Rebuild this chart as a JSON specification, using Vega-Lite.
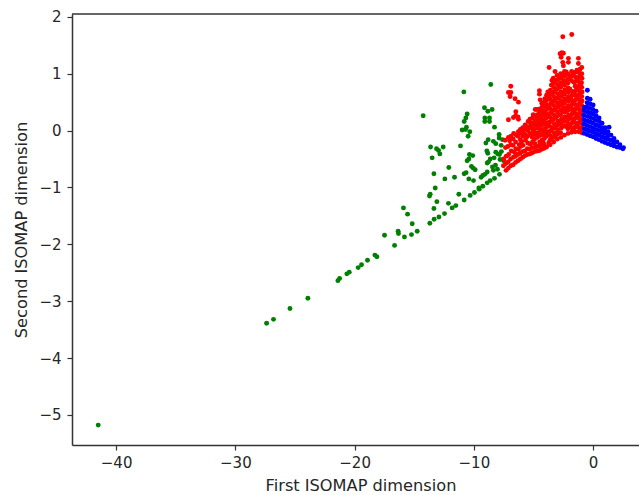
{"$schema":"https://vega.github.io/schema/vega-lite/v6.json","width":567,"height":431,"autosize":{"type":"none"},"padding":{"left":72,"top":14,"right":0,"bottom":50},"background":"white","view":{"stroke":null},
"datasets":{"pts":[
{"x":-8.58,"y":0.81,"g":"g"},{"x":-10.84,"y":0.68,"g":"g"},{"x":-14.25,"y":0.26,"g":"g"},{"x":-9.11,"y":0.4,"g":"g"},{"x":-8.83,"y":0.34,"g":"g"},{"x":-8.47,"y":0.37,"g":"g"},{"x":-10.56,"y":0.29,"g":"g"},{"x":-10.67,"y":0.22,"g":"g"},{"x":-10.81,"y":0.16,"g":"g"},{"x":-9.08,"y":0.22,"g":"g"},{"x":-9.08,"y":0.16,"g":"g"},{"x":-8.69,"y":0.22,"g":"g"},{"x":-8.69,"y":0.16,"g":"g"},{"x":-8.27,"y":0.06,"g":"g"},{"x":-10.62,"y":0.06,"g":"g"},{"x":-10.98,"y":0.01,"g":"g"},{"x":-10.7,"y":0.02,"g":"g"},{"x":-10.34,"y":-0.02,"g":"g"},{"x":-10.48,"y":-0.1,"g":"g"},{"x":-7.88,"y":-0.07,"g":"g"},{"x":-7.88,"y":-0.13,"g":"g"},{"x":-8.8,"y":-0.16,"g":"g"},{"x":-8.99,"y":-0.22,"g":"g"},{"x":-8.36,"y":-0.19,"g":"g"},{"x":-8.16,"y":-0.23,"g":"g"},{"x":-7.71,"y":-0.26,"g":"g"},{"x":-7.6,"y":-0.16,"g":"g"},{"x":-11.12,"y":-0.27,"g":"g"},{"x":-13.63,"y":-0.29,"g":"g"},{"x":-12.57,"y":-0.29,"g":"g"},{"x":-13.13,"y":-0.32,"g":"g"},{"x":-12.96,"y":-0.35,"g":"g"},{"x":-12.85,"y":-0.41,"g":"g"},{"x":-13.5,"y":-0.48,"g":"g"},{"x":-8.91,"y":-0.36,"g":"g"},{"x":-8.83,"y":-0.4,"g":"g"},{"x":-8.16,"y":-0.38,"g":"g"},{"x":-7.99,"y":-0.41,"g":"g"},{"x":-7.69,"y":-0.37,"g":"g"},{"x":-7.85,"y":-0.42,"g":"g"},{"x":-10.37,"y":-0.42,"g":"g"},{"x":-10.09,"y":-0.44,"g":"g"},{"x":-10.42,"y":-0.5,"g":"g"},{"x":-10.56,"y":-0.53,"g":"g"},{"x":-8.3,"y":-0.48,"g":"g"},{"x":-8.63,"y":-0.5,"g":"g"},{"x":-8.77,"y":-0.55,"g":"g"},{"x":-8.88,"y":-0.57,"g":"g"},{"x":-7.8,"y":-0.51,"g":"g"},{"x":-7.5,"y":-0.53,"g":"g"},{"x":-8.19,"y":-0.61,"g":"g"},{"x":-8.44,"y":-0.64,"g":"g"},{"x":-8.02,"y":-0.68,"g":"g"},{"x":-8.36,"y":-0.7,"g":"g"},{"x":-10.2,"y":-0.63,"g":"g"},{"x":-10.06,"y":-0.66,"g":"g"},{"x":-9.89,"y":-0.69,"g":"g"},{"x":-12.1,"y":-0.65,"g":"g"},{"x":-10.65,"y":-0.74,"g":"g"},{"x":-10.81,"y":-0.76,"g":"g"},{"x":-13.35,"y":-0.76,"g":"g"},{"x":-8.88,"y":-0.73,"g":"g"},{"x":-9.08,"y":-0.77,"g":"g"},{"x":-9.25,"y":-0.79,"g":"g"},{"x":-9.39,"y":-0.82,"g":"g"},{"x":-7.85,"y":-0.77,"g":"g"},{"x":-8.27,"y":-0.84,"g":"g"},{"x":-8.63,"y":-0.88,"g":"g"},{"x":-8.88,"y":-0.92,"g":"g"},{"x":-11.62,"y":-0.82,"g":"g"},{"x":-12.43,"y":-0.85,"g":"g"},{"x":-10.42,"y":-0.85,"g":"g"},{"x":-10.03,"y":-0.88,"g":"g"},{"x":-9.25,"y":-0.98,"g":"g"},{"x":-9.58,"y":-1.01,"g":"g"},{"x":-9.55,"y":-1.03,"g":"g"},{"x":-9.95,"y":-1.09,"g":"g"},{"x":-10.31,"y":-1.14,"g":"g"},{"x":-13.24,"y":-1.01,"g":"g"},{"x":-13.66,"y":-1.12,"g":"g"},{"x":-13.72,"y":-1.15,"g":"g"},{"x":-11.26,"y":-1.12,"g":"g"},{"x":-10.81,"y":-1.22,"g":"g"},{"x":-13.1,"y":-1.25,"g":"g"},{"x":-12.13,"y":-1.28,"g":"g"},{"x":-11.51,"y":-1.32,"g":"g"},{"x":-11.82,"y":-1.36,"g":"g"},{"x":-13.35,"y":-1.37,"g":"g"},{"x":-15.9,"y":-1.36,"g":"g"},{"x":-15.56,"y":-1.47,"g":"g"},{"x":-12.46,"y":-1.46,"g":"g"},{"x":-12.93,"y":-1.52,"g":"g"},{"x":-13.33,"y":-1.56,"g":"g"},{"x":-13.69,"y":-1.63,"g":"g"},{"x":-15.17,"y":-1.64,"g":"g"},{"x":-14.75,"y":-1.77,"g":"g"},{"x":-15.23,"y":-1.83,"g":"g"},{"x":-15.82,"y":-1.87,"g":"g"},{"x":-16.35,"y":-1.77,"g":"g"},{"x":-16.32,"y":-1.81,"g":"g"},{"x":-17.49,"y":-1.84,"g":"g"},{"x":-16.65,"y":-2.02,"g":"g"},{"x":-18.13,"y":-2.22,"g":"g"},{"x":-18.3,"y":-2.19,"g":"g"},{"x":-18.92,"y":-2.28,"g":"g"},{"x":-19.42,"y":-2.36,"g":"g"},{"x":-19.7,"y":-2.41,"g":"g"},{"x":-20.45,"y":-2.49,"g":"g"},{"x":-20.65,"y":-2.52,"g":"g"},{"x":-21.26,"y":-2.6,"g":"g"},{"x":-21.4,"y":-2.64,"g":"g"},{"x":-23.92,"y":-2.95,"g":"g"},{"x":-25.42,"y":-3.13,"g":"g"},{"x":-26.8,"y":-3.32,"g":"g"},{"x":-27.38,"y":-3.39,"g":"g"},{"x":-41.5,"y":-5.18,"g":"g"},
{"x":-1.79,"y":1.69,"g":"r"},{"x":-2.54,"y":1.65,"g":"r"},{"x":-2.62,"y":1.37,"g":"r"},{"x":-2.77,"y":1.35,"g":"r"},{"x":-2.49,"y":1.36,"g":"r"},{"x":-2.68,"y":1.29,"g":"r"},{"x":-1.23,"y":1.27,"g":"r"},{"x":-2.07,"y":1.27,"g":"r"},{"x":-2.07,"y":1.2,"g":"r"},{"x":-2.54,"y":1.2,"g":"r"},{"x":-2.49,"y":1.14,"g":"r"},{"x":-1.23,"y":1.18,"g":"r"},{"x":-0.95,"y":1.11,"g":"r"},{"x":-3.69,"y":1.11,"g":"r"},{"x":-3.19,"y":1.04,"g":"r"},{"x":-1.1,"y":1.08,"g":"r"},{"x":-6.9,"y":0.78,"g":"r"},{"x":-7.1,"y":0.67,"g":"r"},{"x":-6.9,"y":0.67,"g":"r"},{"x":-6.96,"y":0.6,"g":"r"},{"x":-6.54,"y":0.56,"g":"r"},{"x":-6.26,"y":0.5,"g":"r"},{"x":-4.5,"y":0.7,"g":"r"},{"x":-4.5,"y":0.64,"g":"r"},{"x":-4.44,"y":0.54,"g":"r"},{"x":-3.8,"y":0.68,"g":"r"},{"x":-6.48,"y":0.33,"g":"r"},{"x":-6.5,"y":0.26,"g":"r"},{"x":-6.3,"y":0.24,"g":"r"},{"x":-6.68,"y":0.23,"g":"r"},{"x":-7.1,"y":0.19,"g":"r"},{"x":-6.26,"y":0.2,"g":"r"},
{"x":-7.52,"y":-0.62,"g":"r"},{"x":-7.5,"y":-0.5,"g":"r"},
{"x":-7.3,"y":-0.7,"g":"r"},{"x":-7.32,"y":-0.58,"g":"r"},{"x":-7.28,"y":-0.45,"g":"r"},{"x":-7.35,"y":-0.3,"g":"r"},{"x":-7.38,"y":-0.17,"g":"r"},
{"x":-7.1,"y":-0.66,"g":"r"},{"x":-7.12,"y":-0.55,"g":"r"},{"x":-7.08,"y":-0.42,"g":"r"},{"x":-7.15,"y":-0.28,"g":"r"},{"x":-7.1,"y":-0.12,"g":"r"},
{"x":-6.9,"y":-0.62,"g":"r"},{"x":-6.92,"y":-0.5,"g":"r"},{"x":-6.86,"y":-0.36,"g":"r"},{"x":-6.9,"y":-0.25,"g":"r"},{"x":-6.88,"y":-0.1,"g":"r"},
{"x":-6.7,"y":-0.6,"g":"r"},{"x":-6.68,"y":-0.47,"g":"r"},{"x":-6.72,"y":-0.26,"g":"r"},{"x":-6.7,"y":-0.15,"g":"r"},{"x":-6.66,"y":-0.05,"g":"r"},
{"x":-6.5,"y":-0.56,"g":"r"},{"x":-6.52,"y":-0.45,"g":"r"},{"x":-6.48,"y":-0.32,"g":"r"},{"x":-6.5,"y":-0.2,"g":"r"},{"x":-6.45,"y":-0.08,"g":"r"},
{"x":-6.3,"y":-0.53,"g":"r"},{"x":-6.32,"y":-0.42,"g":"r"},{"x":-6.28,"y":-0.33,"g":"r"},{"x":-6.3,"y":-0.1,"g":"r"},{"x":-6.27,"y":-0.02,"g":"r"},
{"x":-6.1,"y":-0.5,"g":"r"},{"x":-6.12,"y":-0.4,"g":"r"},{"x":-6.08,"y":-0.28,"g":"r"},{"x":-6.1,"y":-0.16,"g":"r"},{"x":-6.05,"y":-0.05,"g":"r"},{"x":-6.1,"y":0.02,"g":"r"},
{"x":-5.9,"y":-0.47,"g":"r"},{"x":-5.92,"y":-0.37,"g":"r"},{"x":-5.88,"y":-0.26,"g":"r"},{"x":-5.9,"y":-0.1,"g":"r"},{"x":-5.85,"y":-0.03,"g":"r"},{"x":-5.9,"y":0.05,"g":"r"},
{"x":-5.7,"y":-0.44,"g":"r"},{"x":-5.72,"y":-0.36,"g":"r"},{"x":-5.68,"y":-0.17,"g":"r"},{"x":-5.7,"y":-0.07,"g":"r"},{"x":-5.66,"y":0.03,"g":"r"},{"x":-5.7,"y":0.1,"g":"r"},
{"x":-5.5,"y":-0.42,"g":"r"},{"x":-5.52,"y":-0.32,"g":"r"},{"x":-5.48,"y":-0.22,"g":"r"},{"x":-5.5,"y":-0.1,"g":"r"},{"x":-5.47,"y":0,"g":"r"},{"x":-5.5,"y":0.07,"g":"r"},{"x":-5.45,"y":0.16,"g":"r"},
{"x":-5.3,"y":-0.41,"g":"r"},{"x":-5.32,"y":-0.33,"g":"r"},{"x":-5.28,"y":-0.24,"g":"r"},{"x":-5.3,"y":-0.05,"g":"r"},{"x":-5.33,"y":0.05,"g":"r"},{"x":-5.27,"y":0.14,"g":"r"},{"x":-5.3,"y":0.2,"g":"r"},
{"x":-5.1,"y":-0.39,"g":"r"},{"x":-5.12,"y":-0.3,"g":"r"},{"x":-5.08,"y":-0.2,"g":"r"},{"x":-5.1,"y":-0.12,"g":"r"},{"x":-5.06,"y":-0.03,"g":"r"},{"x":-5.13,"y":0.04,"g":"r"},{"x":-5.1,"y":0.13,"g":"r"},{"x":-5.08,"y":0.22,"g":"r"},{"x":-5.02,"y":0.28,"g":"r"},
{"x":-4.9,"y":-0.37,"g":"r"},{"x":-4.92,"y":-0.3,"g":"r"},{"x":-4.88,"y":-0.23,"g":"r"},{"x":-4.9,"y":-0.15,"g":"r"},{"x":-4.86,"y":-0.07,"g":"r"},{"x":-4.92,"y":0.02,"g":"r"},{"x":-4.9,"y":0.1,"g":"r"},{"x":-4.87,"y":0.17,"g":"r"},{"x":-4.92,"y":0.26,"g":"r"},{"x":-4.85,"y":0.37,"g":"r"},
{"x":-4.7,"y":-0.36,"g":"r"},{"x":-4.72,"y":-0.28,"g":"r"},{"x":-4.68,"y":-0.12,"g":"r"},{"x":-4.7,"y":-0.04,"g":"r"},{"x":-4.66,"y":0.05,"g":"r"},{"x":-4.72,"y":0.13,"g":"r"},{"x":-4.7,"y":0.2,"g":"r"},{"x":-4.67,"y":0.28,"g":"r"},{"x":-4.7,"y":0.37,"g":"r"},
{"x":-4.5,"y":-0.35,"g":"r"},{"x":-4.52,"y":-0.27,"g":"r"},{"x":-4.48,"y":-0.2,"g":"r"},{"x":-4.5,"y":-0.09,"g":"r"},{"x":-4.46,"y":0,"g":"r"},{"x":-4.52,"y":0.08,"g":"r"},{"x":-4.5,"y":0.16,"g":"r"},{"x":-4.47,"y":0.23,"g":"r"},{"x":-4.5,"y":0.31,"g":"r"},{"x":-4.46,"y":0.38,"g":"r"},
{"x":-4.3,"y":-0.33,"g":"r"},{"x":-4.32,"y":-0.25,"g":"r"},{"x":-4.28,"y":-0.17,"g":"r"},{"x":-4.3,"y":-0.08,"g":"r"},{"x":-4.26,"y":0.02,"g":"r"},{"x":-4.32,"y":0.1,"g":"r"},{"x":-4.3,"y":0.18,"g":"r"},{"x":-4.27,"y":0.26,"g":"r"},{"x":-4.3,"y":0.33,"g":"r"},{"x":-4.26,"y":0.42,"g":"r"},{"x":-4.3,"y":0.48,"g":"r"},
{"x":-4.1,"y":-0.31,"g":"r"},{"x":-4.12,"y":-0.24,"g":"r"},{"x":-4.08,"y":-0.14,"g":"r"},{"x":-4.1,"y":-0.06,"g":"r"},{"x":-4.06,"y":0.03,"g":"r"},{"x":-4.12,"y":0.11,"g":"r"},{"x":-4.1,"y":0.19,"g":"r"},{"x":-4.07,"y":0.27,"g":"r"},{"x":-4.1,"y":0.35,"g":"r"},{"x":-4.06,"y":0.43,"g":"r"},{"x":-4.1,"y":0.5,"g":"r"},{"x":-4.05,"y":0.56,"g":"r"},
{"x":-3.9,"y":-0.29,"g":"r"},{"x":-3.92,"y":-0.1,"g":"r"},{"x":-3.88,"y":-0.02,"g":"r"},{"x":-3.9,"y":0.06,"g":"r"},{"x":-3.86,"y":0.14,"g":"r"},{"x":-3.92,"y":0.22,"g":"r"},{"x":-3.9,"y":0.3,"g":"r"},{"x":-3.87,"y":0.38,"g":"r"},{"x":-3.9,"y":0.46,"g":"r"},{"x":-3.86,"y":0.54,"g":"r"},{"x":-3.9,"y":0.62,"g":"r"},
{"x":-3.6,"y":-0.25,"g":"r"},{"x":-3.62,"y":-0.17,"g":"r"},{"x":-3.58,"y":-0.09,"g":"r"},{"x":-3.6,"y":-0.01,"g":"r"},{"x":-3.56,"y":0.07,"g":"r"},{"x":-3.62,"y":0.15,"g":"r"},{"x":-3.6,"y":0.23,"g":"r"},{"x":-3.57,"y":0.31,"g":"r"},{"x":-3.6,"y":0.39,"g":"r"},{"x":-3.56,"y":0.47,"g":"r"},{"x":-3.6,"y":0.55,"g":"r"},{"x":-3.62,"y":0.63,"g":"r"},{"x":-3.58,"y":0.71,"g":"r"},{"x":-3.5,"y":0.8,"g":"r"},
{"x":-3.3,"y":-0.2,"g":"r"},{"x":-3.32,"y":-0.12,"g":"r"},{"x":-3.28,"y":-0.04,"g":"r"},{"x":-3.3,"y":0.04,"g":"r"},{"x":-3.26,"y":0.12,"g":"r"},{"x":-3.32,"y":0.2,"g":"r"},{"x":-3.3,"y":0.28,"g":"r"},{"x":-3.27,"y":0.36,"g":"r"},{"x":-3.3,"y":0.44,"g":"r"},{"x":-3.26,"y":0.52,"g":"r"},{"x":-3.3,"y":0.6,"g":"r"},{"x":-3.32,"y":0.68,"g":"r"},{"x":-3.28,"y":0.76,"g":"r"},{"x":-3.3,"y":0.84,"g":"r"},{"x":-3.34,"y":0.92,"g":"r"},
{"x":-3,"y":-0.15,"g":"r"},{"x":-3.02,"y":-0.07,"g":"r"},{"x":-2.98,"y":0.01,"g":"r"},{"x":-3,"y":0.09,"g":"r"},{"x":-2.96,"y":0.17,"g":"r"},{"x":-3.02,"y":0.25,"g":"r"},{"x":-3,"y":0.33,"g":"r"},{"x":-2.97,"y":0.41,"g":"r"},{"x":-3,"y":0.49,"g":"r"},{"x":-2.96,"y":0.57,"g":"r"},{"x":-3,"y":0.65,"g":"r"},{"x":-3.02,"y":0.73,"g":"r"},{"x":-2.98,"y":0.81,"g":"r"},{"x":-3,"y":0.89,"g":"r"},{"x":-3.02,"y":0.97,"g":"r"},
{"x":-2.7,"y":-0.12,"g":"r"},{"x":-2.72,"y":-0.04,"g":"r"},{"x":-2.68,"y":0.04,"g":"r"},{"x":-2.7,"y":0.12,"g":"r"},{"x":-2.66,"y":0.2,"g":"r"},{"x":-2.72,"y":0.28,"g":"r"},{"x":-2.7,"y":0.36,"g":"r"},{"x":-2.67,"y":0.44,"g":"r"},{"x":-2.7,"y":0.52,"g":"r"},{"x":-2.66,"y":0.6,"g":"r"},{"x":-2.7,"y":0.68,"g":"r"},{"x":-2.72,"y":0.76,"g":"r"},{"x":-2.68,"y":0.84,"g":"r"},{"x":-2.7,"y":0.92,"g":"r"},{"x":-2.72,"y":1,"g":"r"},
{"x":-2.4,"y":-0.08,"g":"r"},{"x":-2.42,"y":0.08,"g":"r"},{"x":-2.38,"y":0.16,"g":"r"},{"x":-2.4,"y":0.24,"g":"r"},{"x":-2.36,"y":0.32,"g":"r"},{"x":-2.42,"y":0.4,"g":"r"},{"x":-2.4,"y":0.48,"g":"r"},{"x":-2.37,"y":0.56,"g":"r"},{"x":-2.4,"y":0.64,"g":"r"},{"x":-2.36,"y":0.72,"g":"r"},{"x":-2.4,"y":0.8,"g":"r"},{"x":-2.42,"y":0.88,"g":"r"},{"x":-2.38,"y":0.96,"g":"r"},{"x":-2.4,"y":1.04,"g":"r"},
{"x":-2.1,"y":-0.05,"g":"r"},{"x":-2.12,"y":0.03,"g":"r"},{"x":-2.08,"y":0.11,"g":"r"},{"x":-2.1,"y":0.19,"g":"r"},{"x":-2.06,"y":0.27,"g":"r"},{"x":-2.12,"y":0.35,"g":"r"},{"x":-2.1,"y":0.43,"g":"r"},{"x":-2.07,"y":0.51,"g":"r"},{"x":-2.1,"y":0.59,"g":"r"},{"x":-2.06,"y":0.67,"g":"r"},{"x":-2.1,"y":0.75,"g":"r"},{"x":-2.12,"y":0.83,"g":"r"},{"x":-2.08,"y":0.91,"g":"r"},{"x":-2.1,"y":0.99,"g":"r"},
{"x":-1.8,"y":-0.03,"g":"r"},{"x":-1.82,"y":0.05,"g":"r"},{"x":-1.78,"y":0.13,"g":"r"},{"x":-1.8,"y":0.21,"g":"r"},{"x":-1.76,"y":0.29,"g":"r"},{"x":-1.82,"y":0.37,"g":"r"},{"x":-1.8,"y":0.45,"g":"r"},{"x":-1.77,"y":0.53,"g":"r"},{"x":-1.8,"y":0.61,"g":"r"},{"x":-1.76,"y":0.69,"g":"r"},{"x":-1.82,"y":0.88,"g":"r"},{"x":-1.78,"y":0.96,"g":"r"},{"x":-1.8,"y":1.04,"g":"r"},
{"x":-1.5,"y":-0.02,"g":"r"},{"x":-1.52,"y":0.06,"g":"r"},{"x":-1.48,"y":0.14,"g":"r"},{"x":-1.5,"y":0.22,"g":"r"},{"x":-1.46,"y":0.3,"g":"r"},{"x":-1.52,"y":0.38,"g":"r"},{"x":-1.5,"y":0.46,"g":"r"},{"x":-1.47,"y":0.54,"g":"r"},{"x":-1.5,"y":0.62,"g":"r"},{"x":-1.46,"y":0.7,"g":"r"},{"x":-1.5,"y":0.78,"g":"r"},{"x":-1.52,"y":0.86,"g":"r"},{"x":-1.48,"y":0.94,"g":"r"},{"x":-1.5,"y":1.02,"g":"r"},
{"x":-1.2,"y":-0.02,"g":"r"},{"x":-1.22,"y":0.06,"g":"r"},{"x":-1.18,"y":0.14,"g":"r"},{"x":-1.2,"y":0.22,"g":"r"},{"x":-1.16,"y":0.3,"g":"r"},{"x":-1.22,"y":0.38,"g":"r"},{"x":-1.2,"y":0.46,"g":"r"},{"x":-1.17,"y":0.54,"g":"r"},{"x":-1.2,"y":0.62,"g":"r"},{"x":-1.16,"y":0.7,"g":"r"},{"x":-1.2,"y":0.78,"g":"r"},{"x":-1.22,"y":0.86,"g":"r"},{"x":-1.18,"y":0.94,"g":"r"},{"x":-1.2,"y":1.02,"g":"r"},
{"x":-0.95,"y":-0.04,"g":"r"},{"x":-0.97,"y":0.04,"g":"r"},{"x":-0.93,"y":0.12,"g":"r"},{"x":-0.95,"y":0.2,"g":"r"},{"x":-0.92,"y":0.28,"g":"r"},{"x":-0.97,"y":0.36,"g":"r"},{"x":-0.95,"y":0.44,"g":"r"},{"x":-0.92,"y":0.52,"g":"r"},{"x":-0.95,"y":0.6,"g":"r"},{"x":-0.92,"y":0.68,"g":"r"},{"x":-0.95,"y":0.76,"g":"r"},{"x":-0.97,"y":0.84,"g":"r"},{"x":-0.93,"y":0.92,"g":"r"},{"x":-0.95,"y":1,"g":"r"},
{"x":-3.75,"y":0.1,"g":"r"},{"x":-3.75,"y":0.26,"g":"r"},{"x":-3.72,"y":0.42,"g":"r"},{"x":-3.75,"y":0.58,"g":"r"},{"x":-3.75,"y":-0.05,"g":"r"},{"x":-3.72,"y":-0.22,"g":"r"},
{"x":-3.45,"y":-0.13,"g":"r"},{"x":-3.45,"y":0.03,"g":"r"},{"x":-3.42,"y":0.19,"g":"r"},{"x":-3.45,"y":0.35,"g":"r"},{"x":-3.45,"y":0.51,"g":"r"},{"x":-3.42,"y":0.67,"g":"r"},{"x":-3.45,"y":0.88,"g":"r"},
{"x":-3.15,"y":-0.08,"g":"r"},{"x":-3.15,"y":0.08,"g":"r"},{"x":-3.12,"y":0.24,"g":"r"},{"x":-3.15,"y":0.4,"g":"r"},{"x":-3.15,"y":0.56,"g":"r"},{"x":-3.12,"y":0.72,"g":"r"},{"x":-3.15,"y":0.88,"g":"r"},
{"x":-2.85,"y":-0.04,"g":"r"},{"x":-2.85,"y":0.12,"g":"r"},{"x":-2.82,"y":0.28,"g":"r"},{"x":-2.85,"y":0.44,"g":"r"},{"x":-2.85,"y":0.6,"g":"r"},{"x":-2.82,"y":0.76,"g":"r"},{"x":-2.85,"y":0.92,"g":"r"},
{"x":-2.55,"y":0.18,"g":"r"},{"x":-2.55,"y":0.34,"g":"r"},{"x":-2.52,"y":0.5,"g":"r"},{"x":-2.55,"y":0.66,"g":"r"},{"x":-2.55,"y":0.82,"g":"r"},{"x":-2.52,"y":0.98,"g":"r"},
{"x":-2.25,"y":0.07,"g":"r"},{"x":-2.25,"y":0.23,"g":"r"},{"x":-2.22,"y":0.39,"g":"r"},{"x":-2.25,"y":0.55,"g":"r"},{"x":-2.25,"y":0.71,"g":"r"},{"x":-2.22,"y":0.87,"g":"r"},{"x":-2.25,"y":1.03,"g":"r"},
{"x":-1.95,"y":0.09,"g":"r"},{"x":-1.95,"y":0.25,"g":"r"},{"x":-1.92,"y":0.41,"g":"r"},{"x":-1.95,"y":0.57,"g":"r"},{"x":-1.95,"y":0.73,"g":"r"},{"x":-1.92,"y":0.95,"g":"r"},
{"x":-1.65,"y":0.02,"g":"r"},{"x":-1.65,"y":0.18,"g":"r"},{"x":-1.62,"y":0.34,"g":"r"},{"x":-1.65,"y":0.5,"g":"r"},{"x":-1.65,"y":0.66,"g":"r"},{"x":-1.62,"y":0.85,"g":"r"},{"x":-1.65,"y":1.0,"g":"r"},
{"x":-1.35,"y":0.1,"g":"r"},{"x":-1.35,"y":0.26,"g":"r"},{"x":-1.32,"y":0.42,"g":"r"},{"x":-1.35,"y":0.58,"g":"r"},{"x":-1.35,"y":0.74,"g":"r"},{"x":-1.32,"y":0.9,"g":"r"},{"x":-1.35,"y":1.06,"g":"r"},
{"x":-1.08,"y":0.02,"g":"r"},{"x":-1.08,"y":0.18,"g":"r"},{"x":-1.05,"y":0.34,"g":"r"},{"x":-1.08,"y":0.5,"g":"r"},{"x":-1.08,"y":0.66,"g":"r"},{"x":-1.05,"y":0.82,"g":"r"},{"x":-1.08,"y":0.98,"g":"r"},
{"x":-4.2,"y":-0.2,"g":"r"},{"x":-4.2,"y":-0.02,"g":"r"},{"x":-4.18,"y":0.14,"g":"r"},{"x":-4.2,"y":0.3,"g":"r"},{"x":-4.6,"y":-0.05,"g":"r"},{"x":-4.6,"y":0.1,"g":"r"},{"x":-4.58,"y":0.25,"g":"r"},{"x":-5.2,"y":-0.08,"g":"r"},{"x":-5.2,"y":0.1,"g":"r"},{"x":-5.6,"y":-0.12,"g":"r"},{"x":-6,"y":-0.2,"g":"r"},{"x":-6.2,"y":-0.25,"g":"r"},{"x":-6.6,"y":-0.38,"g":"r"},{"x":-7,"y":-0.18,"g":"r"},
{"x":-0.75,"y":-0.05,"g":"b"},{"x":-0.75,"y":0.03,"g":"b"},{"x":-0.77,"y":0.11,"g":"b"},{"x":-0.75,"y":0.19,"g":"b"},{"x":-0.78,"y":0.27,"g":"b"},{"x":-0.75,"y":0.35,"g":"b"},{"x":-0.72,"y":0.41,"g":"b"},
{"x":-0.5,"y":-0.07,"g":"b"},{"x":-0.5,"y":0.01,"g":"b"},{"x":-0.52,"y":0.09,"g":"b"},{"x":-0.5,"y":0.17,"g":"b"},{"x":-0.48,"y":0.25,"g":"b"},{"x":-0.5,"y":0.33,"g":"b"},{"x":-0.52,"y":0.41,"g":"b"},{"x":-0.5,"y":0.49,"g":"b"},{"x":-0.48,"y":0.57,"g":"b"},{"x":-0.48,"y":0.71,"g":"b"},
{"x":-0.25,"y":-0.09,"g":"b"},{"x":-0.25,"y":-0.01,"g":"b"},{"x":-0.27,"y":0.07,"g":"b"},{"x":-0.25,"y":0.15,"g":"b"},{"x":-0.23,"y":0.23,"g":"b"},{"x":-0.25,"y":0.31,"g":"b"},{"x":-0.27,"y":0.39,"g":"b"},{"x":-0.25,"y":0.47,"g":"b"},{"x":-0.25,"y":0.55,"g":"b"},
{"x":0,"y":-0.11,"g":"b"},{"x":0,"y":-0.03,"g":"b"},{"x":-0.02,"y":0.05,"g":"b"},{"x":0,"y":0.13,"g":"b"},{"x":0.02,"y":0.21,"g":"b"},{"x":0,"y":0.29,"g":"b"},{"x":-0.02,"y":0.37,"g":"b"},{"x":0,"y":0.45,"g":"b"},
{"x":0.25,"y":-0.14,"g":"b"},{"x":0.25,"y":-0.06,"g":"b"},{"x":0.23,"y":0.02,"g":"b"},{"x":0.25,"y":0.1,"g":"b"},{"x":0.27,"y":0.18,"g":"b"},{"x":0.25,"y":0.26,"g":"b"},{"x":0.25,"y":0.34,"g":"b"},
{"x":0.5,"y":-0.16,"g":"b"},{"x":0.5,"y":-0.08,"g":"b"},{"x":0.48,"y":0,"g":"b"},{"x":0.5,"y":0.08,"g":"b"},{"x":0.52,"y":0.16,"g":"b"},{"x":0.5,"y":0.22,"g":"b"},
{"x":0.75,"y":-0.19,"g":"b"},{"x":0.75,"y":-0.11,"g":"b"},{"x":0.73,"y":-0.03,"g":"b"},{"x":0.75,"y":0.05,"g":"b"},{"x":0.75,"y":0.13,"g":"b"},
{"x":1,"y":-0.21,"g":"b"},{"x":1,"y":-0.13,"g":"b"},{"x":0.98,"y":-0.05,"g":"b"},{"x":1,"y":0.05,"g":"b"},{"x":1,"y":0,"g":"b"},
{"x":1.25,"y":-0.23,"g":"b"},{"x":1.25,"y":-0.15,"g":"b"},{"x":1.23,"y":-0.08,"g":"b"},{"x":1.25,"y":-0.02,"g":"b"},{"x":1.34,"y":0.06,"g":"b"},
{"x":1.5,"y":-0.25,"g":"b"},{"x":1.5,"y":-0.17,"g":"b"},{"x":1.5,"y":-0.08,"g":"b"},
{"x":1.75,"y":-0.27,"g":"b"},{"x":1.75,"y":-0.2,"g":"b"},{"x":1.75,"y":-0.14,"g":"b"},
{"x":2,"y":-0.29,"g":"b"},{"x":2,"y":-0.2,"g":"b"},
{"x":2.25,"y":-0.3,"g":"b"},{"x":2.25,"y":-0.25,"g":"b"},
{"x":2.5,"y":-0.32,"g":"b"},{"x":2.55,"y":-0.3,"g":"b"}
],"top":[{"y":2.05}]},
"layer":[
{"data":{"name":"pts"},"mark":{"type":"point","filled":true,"opacity":1,"size":24},
"encoding":{
"x":{"field":"x","type":"quantitative","title":"First ISOMAP dimension","scale":{"domain":[-43.7,3.85],"nice":false,"zero":false},"axis":{"values":[-40,-30,-20,-10,0],"grid":false,"format":"d","titlePadding":7,"labelPadding":5,"titleX":288.5}},
"y":{"field":"y","type":"quantitative","title":"Second ISOMAP dimension","scale":{"domain":[-5.53,2.05],"nice":false,"zero":false},"axis":{"values":[-5,-4,-3,-2,-1,0,1,2],"grid":false,"format":"d","titlePadding":9,"labelPadding":6}},
"color":{"field":"g","type":"nominal","legend":null,"scale":{"domain":["g","r","b"],"range":["#008000","#ff0000","#0000ff"]}}}},
{"data":{"name":"top"},"mark":{"type":"rule","color":"#333333","strokeWidth":1.5},"encoding":{"y":{"field":"y","type":"quantitative"}}}
],
"config":{"font":"DejaVu Sans","axis":{"labelFont":"DejaVu Sans","titleFont":"DejaVu Sans","labelFontSize":15,"titleFontSize":16.2,"titleFontWeight":"normal","labelColor":"#262626","titleColor":"#262626","domainColor":"#333333","domainWidth":1.5,"tickColor":"#333333","tickWidth":1.2,"tickSize":5}}}
